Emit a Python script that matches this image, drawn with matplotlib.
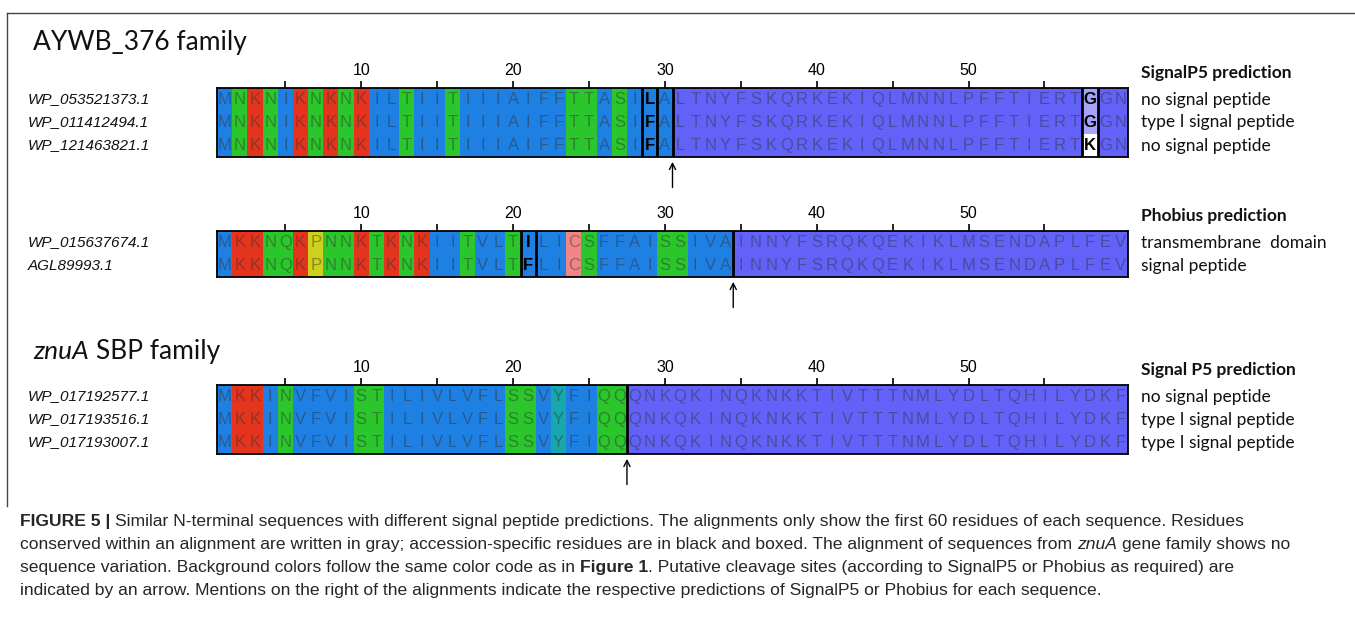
import numpy as np
import matplotlib
matplotlib.use("Agg")
import matplotlib.pyplot as plt
from matplotlib.colors import to_rgb
from matplotlib.transforms import blended_transform_factory

# ---------------- data ----------------
major_ticks = [10, 20, 30, 40, 50]
minor_ticks = [5, 15, 25, 35, 45, 55]

aywb_title = "AYWB_376 family"
aywb_header = "SignalP5 prediction"
aywb_ids = ["WP_053521373.1", "WP_011412494.1", "WP_121463821.1"]
aywb_seqs = ["MNKNIKNKNKILTIITIIIAIFFTTASILALTNYFSKQRKEKIQLMNNLPFFTIERTGGN",
             "MNKNIKNKNKILTIITIIIAIFFTTASIFALTNYFSKQRKEKIQLMNNLPFFTIERTGGN",
             "MNKNIKNKNKILTIITIIIAIFFTTASIFALTNYFSKQRKEKIQLMNNLPFFTIERTKGN"]
aywb_preds = ["no signal peptide", "type I signal peptide", "no signal peptide"]
aywb_cleavage = 30
aywb_boxed = [29, 58]

phob_header = "Phobius prediction"
phob_ids = ["WP_015637674.1", "AGL89993.1"]
phob_seqs = ["MKKNQKPNNKTKNKIITVLTILICSFFAISSIVAINNYFSRQKQEKIKLMSENDAPLFEV",
             "MKKNQKPNNKTKNKIITVLTFLICSFFAISSIVAINNYFSRQKQEKIKLMSENDAPLFEV"]
phob_preds = ["transmembrane  domain", "signal peptide"]
phob_cleavage = 34
phob_boxed = [21]

znua_title_italic = "znuA"
znua_title_rest = "SBP family"
znua_header = "Signal P5 prediction"
znua_ids = ["WP_017192577.1", "WP_017193516.1", "WP_017193007.1"]
znua_seqs = ["MKKINVFVISTILIVLVFLSSVYFIQQQNKQKINQKNKKTIVTTTNMLYDLTQHILYDKF",
             "MKKINVFVISTILIVLVFLSSVYFIQQQNKQKINQKNKKTIVTTTNMLYDLTQHILYDKF",
             "MKKINVFVISTILIVLVFLSSVYFIQQQNKQKINQKNKKTIVTTTNMLYDLTQHILYDKF"]
znua_preds = ["no signal peptide", "type I signal peptide", "type I signal peptide"]
znua_cleavage = 27
znua_boxed = []

caption_lines = [
    [("FIGURE 5 |", "b", False),
     ("Similar N-terminal sequences with different signal peptide predictions. The alignments only show the first 60 residues of each sequence. Residues", "", True)],
    [("conserved within an alignment are written in gray; accession-specific residues are in black and boxed. The alignment of sequences from", "", False),
     ("znuA", "i", True), ("gene family shows no", "", True)],
    [("sequence variation. Background colors follow the same color code as in", "", False),
     ("Figure 1", "b", True),
     (". Putative cleavage sites (according to SignalP5 or Phobius as required) are", "", False)],
    [("indicated by an arrow. Mentions on the right of the alignments indicate the respective predictions of SignalP5 or Phobius for each sequence.", "", False)],
]

# ---------------- style ----------------
W, H, DPI = 1355, 625, 100
X0, X1 = 217, 1128
ROW_H = 23
class_colors = {
    "AILMFVW": "#1f80e3",
    "NQST": "#2bc62b",
    "KR": "#e5341e",
    "P": "#cfcf1e",
    "C": "#f08585",
    "YH": "#17a8ae",
    "DE": "#c040c0",
    "G": "#f09048",
}
mature_color = "#6262f8"
variant_major = "#a4a4fa"
variant_minor = "#ffffff"
SANS = ["Liberation Sans", "DejaVu Sans"]
CAL = ["Lato", "DejaVu Sans"]

fig = plt.figure(figsize=(W / DPI, H / DPI), dpi=DPI)
renderer = fig.canvas.get_renderer()


def fx(x):
    return x / W


def fy(y):
    return 1 - y / H


def cls_color(c):
    for k, v in class_colors.items():
        if c in k:
            return v
    return "#ffffff"


def draw_segments(x_px, y_base, segs, size, family, color):
    x = x_px
    probe = fig.text(0, 0, "a a", fontsize=size, family=family)
    w1 = probe.get_window_extent(renderer).width
    probe.remove()
    probe = fig.text(0, 0, "aa", fontsize=size, family=family)
    w2 = probe.get_window_extent(renderer).width
    probe.remove()
    space = w1 - w2
    made = []
    for txt, style, lead in segs:
        if lead:
            x += space
        kw = dict(fontsize=size, family=family, color=color, va="baseline", ha="left")
        if "b" in style:
            kw["fontweight"] = "bold"
        if "i" in style:
            kw["fontstyle"] = "italic"
        t = fig.text(fx(x), fy(y_base), txt, **kw)
        made.append(t)
        x += t.get_window_extent(renderer).width
    return x, made


def draw_alignment(top, ids, seqs, preds, header, cleave, boxed):
    n = len(seqs)
    L = len(seqs[0])
    bottom = top + n * ROW_H
    ax = fig.add_axes([fx(X0), fy(bottom), (X1 - X0) / W, n * ROW_H / H])
    rgb = np.ones((n, L, 3))
    for i in range(L):
        pos = i + 1
        col_res = [s[i] for s in seqs]
        major = max(set(col_res), key=col_res.count)
        for r in range(n):
            c = seqs[r][i]
            if pos > cleave:
                if pos in boxed:
                    col = variant_major if c == major else variant_minor
                else:
                    col = mature_color
            else:
                col = cls_color(c)
            rgb[r, i] = to_rgb(col)
    ax.imshow(rgb, extent=(0.5, L + 0.5, n + 0.5, 0.5), aspect="auto",
              interpolation="nearest")
    ax.set_xlim(0.5, L + 0.5)
    ax.set_ylim(n + 0.5, 0.5)
    for r, s in enumerate(seqs):
        for i, c in enumerate(s):
            pos = i + 1
            if pos in boxed:
                ax.text(pos, r + 1, c, ha="center", va="center", fontsize=12,
                        family=SANS, color="black", fontweight="bold", zorder=4)
            else:
                ax.text(pos, r + 1, c, ha="center", va="center", fontsize=12,
                        family=SANS, color="#303030", alpha=0.45, zorder=3)
    for b in boxed:
        for edge in (b - 0.5, b + 0.5):
            ax.axvline(edge, color="black", lw=2.0, zorder=5)
    ax.axvline(cleave + 0.5, color="black", lw=2.0, zorder=5)
    ax.annotate("", xy=(cleave + 0.5, n + 0.5), xycoords="data",
                xytext=(0, -22), textcoords="offset points",
                arrowprops=dict(arrowstyle="->", lw=1.0, color="black",
                                shrinkA=0, shrinkB=3.5, mutation_scale=11),
                annotation_clip=False)
    ax.xaxis.tick_top()
    ax.set_xticks(major_ticks)
    ax.set_xticklabels([str(t) for t in major_ticks], family=SANS, fontsize=11.5)
    ax.set_xticks(minor_ticks, minor=True)
    ax.tick_params(axis="x", which="both", top=True, bottom=False, length=5,
                   width=1.2, direction="out", pad=2.5)
    ax.set_yticks([])
    for sp in ax.spines.values():
        sp.set_linewidth(1.3)
        sp.set_color("black")
    tr_left = blended_transform_factory(fig.transFigure, ax.transData)
    for r, (name, pred) in enumerate(zip(ids, preds)):
        ax.text(fx(28), r + 1, name, transform=tr_left, ha="left", va="center",
                fontsize=11, family=SANS, fontstyle="italic", color="#111111")
        ax.text(fx(1141), r + 1, pred, transform=tr_left, ha="left", va="center",
                fontsize=12.5, family=CAL, color="#111111")
    fig.text(fx(1141), fy(top - 15), header, ha="left", va="center",
             fontsize=12.5, family=CAL, fontweight="bold", color="#111111")
    return ax


# frame
fig.add_artist(plt.Line2D([fx(7), fx(7)], [fy(13), fy(506)], color="#444444", lw=1.0))
fig.add_artist(plt.Line2D([fx(7), 1.0], [fy(13), fy(13)], color="#444444", lw=1.0))

# titles
fig.text(fx(33), fy(50), aywb_title, ha="left", va="baseline", fontsize=19,
         family=CAL, color="#111111")
draw_segments(33, 359, [(znua_title_italic, "i", False), (znua_title_rest, "", True)],
              19, CAL, "#111111")

draw_alignment(88, aywb_ids, aywb_seqs, aywb_preds, aywb_header, aywb_cleavage, aywb_boxed)
draw_alignment(231, phob_ids, phob_seqs, phob_preds, phob_header, phob_cleavage, phob_boxed)
draw_alignment(385, znua_ids, znua_seqs, znua_preds, znua_header, znua_cleavage, znua_boxed)

# caption: size fitted to the measured line widths
CAP_FAMILY = ["Liberation Sans", "DejaVu Sans"]
test, tmp = draw_segments(0, -100, caption_lines[0], 10, CAP_FAMILY, "#222222")
for t in tmp:
    t.remove()
cap_size = 10 * 1279 / test * 0.96
for k, segs in enumerate(caption_lines):
    draw_segments(20, 526 + 23 * k, segs, cap_size, CAP_FAMILY, "#262626")

fig.savefig("out.png", dpi=DPI)
